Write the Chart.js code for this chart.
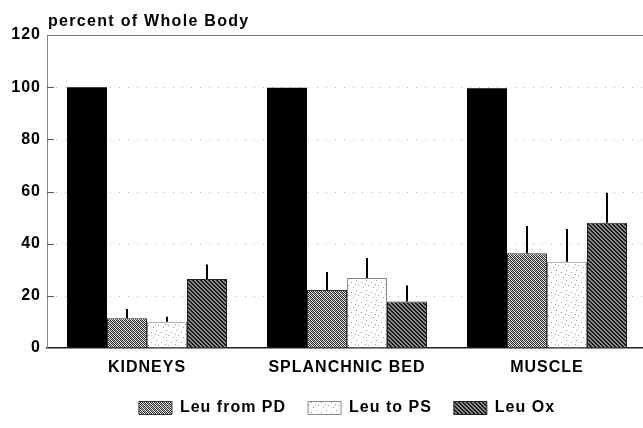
<!DOCTYPE html>
<html><head><meta charset="utf-8">
<script src="https://cdn.jsdelivr.net/npm/chart.js@4"></script>
<style>html,body{margin:0;padding:0;overflow:hidden;background:#fff;width:643px;height:428px}canvas{display:block}</style>
</head><body>
<canvas id="c" width="647" height="428" style="width:647px;height:428px"></canvas>
<script>
const categories = ['KIDNEYS', 'SPLANCHNIC BED', 'MUSCLE'];
const seriesNames = ['Whole Body', 'Leu from PD', 'Leu to PS', 'Leu Ox'];
const wholeBody = [100, 99.8, 99.6];
const leuFromPD = [11.4, 22.2, 36.3];
const leuToPS = [10.1, 26.8, 33.1];
const leuOx = [26.5, 17.8, 48.0];
const errFromPD = [3.6, 6.9, 10.5];
const errToPS = [1.9, 7.7, 12.5];
const errOx = [5.5, 6.2, 11.5];
const yTicks = [0, 20, 40, 60, 80, 100, 120];
const yTitle = 'percent of Whole Body';

const ctxMain = document.getElementById('c').getContext('2d');
function makePattern(size, draw) {
  const c = document.createElement('canvas');
  c.width = c.height = size;
  const g = c.getContext('2d');
  g.fillStyle = '#fff'; g.fillRect(0, 0, size, size);
  draw(g);
  return ctxMain.createPattern(c, 'repeat');
}
const patPD = makePattern(4, g => {
  for (let y = 0; y < 4; y++) for (let x = 0; x < 4; x++) {
    if ((x + y) % 2 === 0) { g.fillStyle = '#333'; g.fillRect(x, y, 1, 1); }
    else if ((x - y + 8) % 4 === 1) { g.fillStyle = '#bbb'; g.fillRect(x, y, 1, 1); }
  }
});
const patPS = makePattern(10, g => {
  g.fillStyle = '#999';
  [[1,2],[6,0],[3,7],[8,5],[5,4]].forEach(p => g.fillRect(p[0], p[1], 1, 1));
});
const patOx = makePattern(4, g => {
  for (let y = 0; y < 4; y++) for (let x = 0; x < 4; x++) {
    const d = (x - y + 8) % 4;
    g.fillStyle = (d === 0 || d === 1) ? '#1e1e1e' : '#8a8a8a';
    g.fillRect(x, y, 1, 1);
  }
});

Chart.defaults.font.family = "'Liberation Sans', Arial, Helvetica, sans-serif";
Chart.defaults.font.size = 16;
Chart.defaults.font.weight = 'bold';
Chart.defaults.color = '#000';

const spacingPlugin = {
  id: 'spacing',
  beforeUpdate(chart) { chart.ctx.letterSpacing = '1px'; },
  beforeLayout(chart) { chart.ctx.letterSpacing = '1px'; },
  beforeDraw(chart) { chart.ctx.letterSpacing = '1px'; }
};

const framePlugin = {
  id: 'frame',
  beforeDatasetsDraw(chart) {
    const {ctx, chartArea: a, scales: {y}} = chart;
    ctx.save();
    yTicks.forEach(v => {
      const py = Math.round(y.getPixelForValue(v)) + 0.5;
      if (v > 0 && v < 120) {
        ctx.strokeStyle = 'rgba(0,0,0,0.3)';
        ctx.lineWidth = 1;
        ctx.setLineDash([1, 8]);
        ctx.beginPath(); ctx.moveTo(a.left, py); ctx.lineTo(a.right, py); ctx.stroke();
        ctx.setLineDash([]);
        ctx.strokeStyle = '#555';
        ctx.beginPath(); ctx.moveTo(a.left, py); ctx.lineTo(a.left + 7, py); ctx.stroke();
      }
    });
    const pt = Math.round(y.getPixelForValue(120)) + 0.5;
    ctx.strokeStyle = '#777'; ctx.lineWidth = 1;
    ctx.beginPath(); ctx.moveTo(a.left, pt); ctx.lineTo(a.right, pt); ctx.stroke();
    ctx.restore();
  }
};

const errorPlugin = {
  id: 'errors',
  afterDatasetsDraw(chart) {
    const {ctx, scales: {y}} = chart;
    const errs = [null, errFromPD, errToPS, errOx];
    ctx.save();
    ctx.strokeStyle = '#000'; ctx.lineWidth = 2;
    chart.data.datasets.forEach((ds, i) => {
      if (!errs[i]) return;
      const meta = chart.getDatasetMeta(i);
      meta.data.forEach((bar, j) => {
        const top = y.getPixelForValue(ds.data[j] + errs[i][j]);
        const x = Math.round(bar.x);
        ctx.beginPath(); ctx.moveTo(x, bar.y); ctx.lineTo(x, top); ctx.stroke();
      });
    });
    ctx.restore();
  }
};

const titlePlugin = {
  id: 'ytitle',
  afterDraw(chart) {
    const {ctx, chartArea: a} = chart;
    ctx.save();
    ctx.letterSpacing = '1.3px';
    ctx.font = "bold 16px 'Liberation Sans', Arial, sans-serif";
    ctx.fillStyle = '#000';
    ctx.textAlign = 'left'; ctx.textBaseline = 'alphabetic';
    ctx.fillText(yTitle, a.left + 1, a.top - 9);
    ctx.restore();
  }
};

new Chart(ctxMain, {
  type: 'bar',
  data: {
    labels: categories,
    datasets: [
      {label: seriesNames[0], data: wholeBody, backgroundColor: '#000', borderWidth: 0},
      {label: seriesNames[1], data: leuFromPD, backgroundColor: patPD, borderColor: '#333', borderWidth: 1},
      {label: seriesNames[2], data: leuToPS, backgroundColor: patPS, borderColor: '#888', borderWidth: 1},
      {label: seriesNames[3], data: leuOx, backgroundColor: patOx, borderColor: '#222', borderWidth: 1}
    ]
  },
  options: {
    responsive: false,
    animation: false,
    devicePixelRatio: 1,
    datasets: {bar: {barPercentage: 1, categoryPercentage: 0.8}},
    layout: {padding: {top: 35, left: 0, right: 0, bottom: 2}},
    scales: {
      x: {
        grid: {display: true, drawOnChartArea: false, drawTicks: false},
        border: {display: true, color: '#222', width: 1.5},
        ticks: {padding: 10, color: '#000', font: {size: 16, weight: 'bold'}},
        afterFit(s) { s.height = 30; }
      },
      y: {
        min: 0, max: 120,
        afterBuildTicks(s) { s.ticks = yTicks.map(v => ({value: v})); },
        ticks: {padding: 6, color: '#000', font: {size: 16, weight: 'bold'}},
        grid: {display: true, drawOnChartArea: false, drawTicks: false},
        border: {display: true, color: '#888', width: 1},
        afterFit(s) { s.width = 47; }
      }
    },
    plugins: {
      tooltip: {enabled: false},
      legend: {
        position: 'bottom',
        fullSize: false,
        labels: {
          boxWidth: 33, boxHeight: 13, padding: 22, color: '#000',
          font: {size: 16, weight: 'bold'},
          filter: item => item.datasetIndex > 0
        }
      }
    }
  },
  plugins: [spacingPlugin, framePlugin, errorPlugin, titlePlugin]
});
</script>
</body></html>
